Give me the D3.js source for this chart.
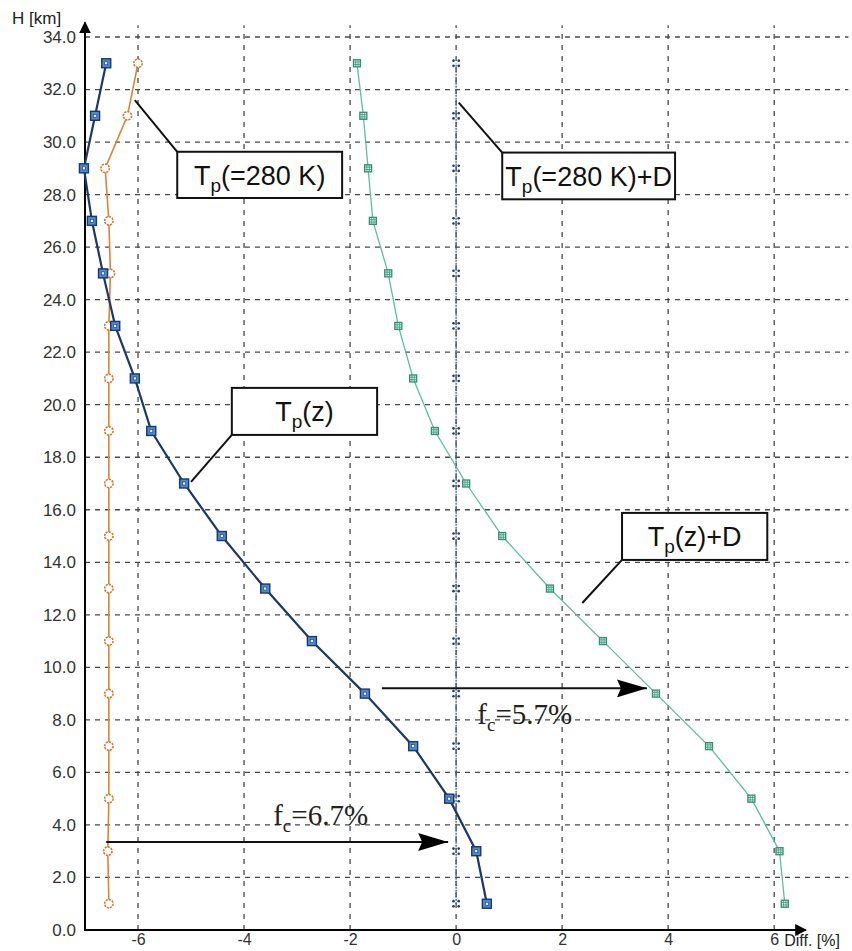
<!DOCTYPE html>
<html>
<head>
<meta charset="utf-8">
<script src="https://cdn.jsdelivr.net/npm/d3@7"></script>
<style>
  html, body { margin: 0; padding: 0; background: #fff; }
  svg { display: block; }
</style>
</head>
<body>
<svg id="chart" width="852" height="951"></svg>
<script>
// ---- data ----
const heights = [1,3,5,7,9,11,13,15,17,19,21,23,25,27,29,31,33];
const tp280  = [-6.55,-6.57,-6.55,-6.55,-6.55,-6.55,-6.55,-6.55,-6.55,-6.55,-6.55,-6.55,-6.52,-6.55,-6.62,-6.2,-6.0];
const tpz    = [0.58,0.38,-0.13,-0.81,-1.72,-2.72,-3.60,-4.42,-5.13,-5.75,-6.06,-6.43,-6.66,-6.87,-7.02,-6.81,-6.60];
const tp280D = [0,0,0,0,0,0,0,0,0,0,0,0,0,0,0,0,0];
const tpzD   = [6.2,6.1,5.57,4.77,3.77,2.77,1.77,0.87,0.19,-0.40,-0.81,-1.09,-1.28,-1.57,-1.66,-1.75,-1.87];

const xTicks = [-6,-4,-2,0,2,4,6];
const xTickLabels = ["-6","-4","-2","0","2","4","6"];
const yTicks = [0,2,4,6,8,10,12,14,16,18,20,22,24,26,28,30,32,34];
const yTickLabels = yTicks.map(d => d.toFixed(1));

// annotation boxes (data coords: x0,x1 in %, h0 top, h1 bottom) and leader start
const boxes = [
  {main:"T", sub:"p", rest:"(=280 K)", x0:-5.26, x1:-2.15, h0:29.63, h1:27.87, lx:-6.06, lh:31.6, corner:"tl"},
  {main:"T", sub:"p", rest:"(=280 K)+D", x0:0.87, x1:4.13, h0:29.60, h1:27.82, lx:0.05, lh:31.5, corner:"tl"},
  {main:"T", sub:"p", rest:"(z)", x0:-4.23, x1:-1.49, h0:20.64, h1:18.85, lx:-5.0, lh:17.06, corner:"bl"},
  {main:"T", sub:"p", rest:"(z)+D", x0:3.13, x1:5.87, h0:15.88, h1:14.09, lx:2.38, lh:12.45, corner:"bl"}
];
const arrows = [
  {x0:-1.4, x1:3.6, h:9.2},
  {x0:-6.6, x1:-0.15, h:3.35}
];
const fcLabels = [
  {x:0.40, h:7.85, val:"=5.7%"},
  {x:-3.45, h:4.0, val:"=6.7%"}
];

// ---- scales ----
const svg = d3.select("#chart");
const x = d3.scaleLinear().domain([-7, 6.6]).range([85, 806]);
const y = d3.scaleLinear().domain([0, 34]).range([930, 37]);

const gridColor = "#4a4a4a";
const fontSans = "Liberation Sans, Arial, Helvetica, sans-serif";

// grid: vertical
svg.append("g").selectAll("line").data(xTicks).join("line")
  .attr("x1", d => x(d)).attr("x2", d => x(d))
  .attr("y1", y(0)).attr("y2", y(34.45))
  .attr("stroke", gridColor).attr("stroke-width", 1.3)
  .attr("stroke-dasharray", "5,6");

// grid: horizontal
svg.append("g").selectAll("line").data(yTicks.filter(d => d > 0)).join("line")
  .attr("x1", x(-7)).attr("x2", x(7.4))
  .attr("y1", d => y(d)).attr("y2", d => y(d))
  .attr("stroke", gridColor).attr("stroke-width", 1.3)
  .attr("stroke-dasharray", "5,5");

// axes via d3
const yAxis = d3.axisLeft(y).tickValues(yTicks).tickFormat((d,i) => yTickLabels[i]).tickSize(0).tickPadding(9);
const gy = svg.append("g").attr("transform", `translate(${x(-7)},0)`).call(yAxis);
gy.select(".domain").remove();
gy.selectAll("text").attr("font-family", fontSans).attr("font-size", 17).attr("fill", "#333");

const xAxis = d3.axisBottom(x).tickValues(xTicks).tickFormat((d,i) => xTickLabels[i]).tickSize(0).tickPadding(4);
const gx = svg.append("g").attr("transform", `translate(0,${y(0)})`).call(xAxis);
gx.select(".domain").remove();
gx.selectAll("text").attr("font-family", fontSans).attr("font-size", 16).attr("fill", "#333");

// axis lines with arrows
const defs = svg.append("defs");
defs.append("marker")
  .attr("id", "axarrow").attr("viewBox", "0 0 10 10").attr("refX", 9).attr("refY", 5)
  .attr("markerWidth", 12).attr("markerHeight", 14).attr("markerUnits", "userSpaceOnUse")
  .attr("orient", "auto")
  .append("path").attr("d", "M0,0 L10,5 L0,10 Z").attr("fill", "#000");

svg.append("line").attr("x1", x(-7)).attr("x2", x(-7)).attr("y1", y(0) + 1).attr("y2", y(34.55))
  .attr("stroke", "#000").attr("stroke-width", 2).attr("marker-end", "url(#axarrow)");
svg.append("line").attr("x1", x(-7) - 1).attr("x2", x(6.6)).attr("y1", y(0)).attr("y2", y(0))
  .attr("stroke", "#000").attr("stroke-width", 2.2).attr("marker-end", "url(#axarrow)");

svg.append("text").attr("x", 12).attr("y", 24).text("H [km]")
  .attr("font-family", fontSans).attr("font-size", 17).attr("fill", "#222");
svg.append("text").attr("x", x(6) + 10).attr("y", y(0) + 16).text("Diff. [%]")
  .attr("font-family", fontSans).attr("font-size", 16).attr("fill", "#222");

// ---- series ----
const line = d3.line().x(d => x(d[0])).y(d => y(d[1]));
const pts = arr => arr.map((v,i) => [v, heights[i]]);

// Tp(=280K)+D dotted blue
svg.append("path").datum(pts(tp280D)).attr("d", line)
  .attr("fill", "none").attr("stroke", "#3c5f9e").attr("stroke-width", 1.3).attr("stroke-dasharray", "2,1");
const gD = svg.append("g").selectAll("g").data(pts(tp280D)).join("g")
  .attr("transform", d => `translate(${x(d[0])},${y(d[1])})`);
[[-2.6,-2.6],[2.6,-2.6],[-2.6,2.6],[2.6,2.6]].forEach(o => {
  gD.append("circle").attr("cx", o[0]).attr("cy", o[1]).attr("r", 1.3).attr("fill", "#223a66");
});

// Tp(=280K) orange
svg.append("path").datum(pts(tp280)).attr("d", line)
  .attr("fill", "none").attr("stroke", "#d8843a").attr("stroke-width", 1.6);
svg.append("g").selectAll("circle").data(pts(tp280)).join("circle")
  .attr("cx", d => x(d[0])).attr("cy", d => y(d[1])).attr("r", 4.2)
  .attr("fill", "#fff").attr("stroke", "#d07a30").attr("stroke-width", 1.6).attr("stroke-dasharray", "2.2,1");

// Tp(z)+D green
svg.append("path").datum(pts(tpzD)).attr("d", line)
  .attr("fill", "none").attr("stroke", "#5cbf9f").attr("stroke-width", 1.3);
const gG = svg.append("g").selectAll("g").data(pts(tpzD)).join("g")
  .attr("transform", d => `translate(${x(d[0])},${y(d[1])})`);
gG.append("rect").attr("x", -3.5).attr("y", -3.5).attr("width", 7).attr("height", 7)
  .attr("fill", "#d8f2e8").attr("stroke", "#2f8f6f").attr("stroke-width", 1.3);
gG.append("path").attr("d", "M-1.2,-3.5 V3.5 M1.2,-3.5 V3.5 M-3.5,-1.2 H3.5 M-3.5,1.2 H3.5")
  .attr("stroke", "#3a9a7a").attr("stroke-width", 0.8);

// Tp(z) navy
svg.append("path").datum(pts(tpz)).attr("d", line)
  .attr("fill", "none").attr("stroke", "#1d3768").attr("stroke-width", 2.2);
const gB = svg.append("g").selectAll("g").data(pts(tpz)).join("g")
  .attr("transform", d => `translate(${x(d[0])},${y(d[1])})`);
gB.append("rect").attr("x", -4.5).attr("y", -4.5).attr("width", 9).attr("height", 9)
  .attr("fill", "#4a8ad0").attr("stroke", "#1d3768").attr("stroke-width", 1.4);
gB.append("rect").attr("x", -1.5).attr("y", -1.5).attr("width", 3).attr("height", 3)
  .attr("fill", "#e8f0ff").attr("stroke", "#1d3768").attr("stroke-width", 0.6);

// ---- annotations ----
boxes.forEach(b => {
  const bx0 = x(b.x0), bx1 = x(b.x1), by0 = y(b.h0), by1 = y(b.h1);
  const cy = b.corner === "tl" ? by0 : by1;
  svg.append("line").attr("x1", x(b.lx)).attr("y1", y(b.lh)).attr("x2", bx0).attr("y2", cy)
    .attr("stroke", "#111").attr("stroke-width", 2);
  svg.append("rect").attr("x", bx0).attr("y", by0).attr("width", bx1 - bx0).attr("height", by1 - by0)
    .attr("fill", "#fff").attr("stroke", "#111").attr("stroke-width", 2);
  const t = svg.append("text").attr("x", (bx0 + bx1) / 2).attr("y", by0 + (by1 - by0) / 2 + 10)
    .attr("text-anchor", "middle").attr("font-family", fontSans).attr("font-size", 27).attr("fill", "#111");
  t.append("tspan").text(b.main);
  t.append("tspan").attr("font-size", 19).attr("dy", 7).text(b.sub);
  t.append("tspan").attr("dy", -7).text(b.rest);
});

defs.append("marker").attr("id", "bigarrow").attr("viewBox", "0 0 30 18").attr("refX", 30).attr("refY", 9)
  .attr("markerWidth", 30).attr("markerHeight", 18).attr("markerUnits", "userSpaceOnUse").attr("orient", "auto")
  .append("path").attr("d", "M0,0 L30,9 L0,18 L4,9 Z").attr("fill", "#000");

arrows.forEach(a => {
  svg.append("line").attr("x1", x(a.x0)).attr("x2", x(a.x1)).attr("y1", y(a.h)).attr("y2", y(a.h))
    .attr("stroke", "#111").attr("stroke-width", 2).attr("marker-end", "url(#bigarrow)");
});

fcLabels.forEach(l => {
  const t = svg.append("text").attr("x", x(l.x)).attr("y", y(l.h))
    .attr("font-family", "Liberation Serif, Times New Roman, serif").attr("font-size", 29).attr("fill", "#222");
  t.append("tspan").text("f");
  t.append("tspan").attr("font-size", 19).attr("dy", 7).text("c");
  t.append("tspan").attr("dy", -7).text(l.val);
});
</script>
</body>
</html>
